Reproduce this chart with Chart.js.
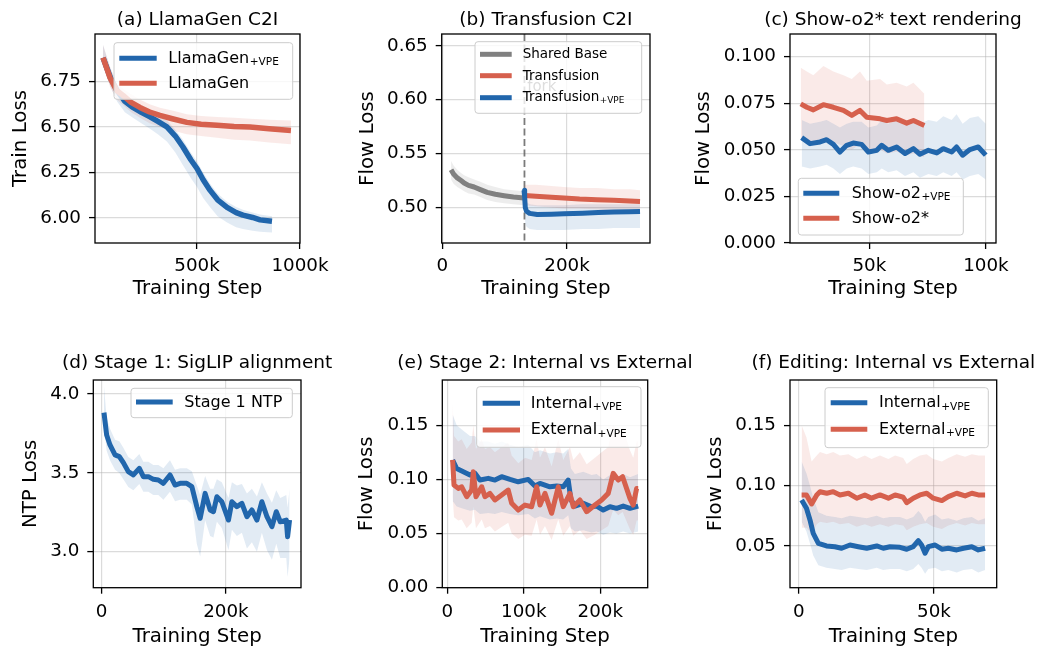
<!DOCTYPE html>
<html>
<head>
<meta charset="utf-8">
<script src="https://cdn.jsdelivr.net/npm/chart.js@4.4.1/dist/chart.umd.min.js"></script>
<style>
  html, body { margin: 0; padding: 0; background: #fff; }
  #wrap { position: relative; width: 1040px; height: 652px; }
  #wrap canvas { position: absolute; left: 0; top: 0; }
</style>
</head>
<body>
<div id="wrap">
  <canvas id="pa" width="1040" height="652"></canvas>
  <canvas id="pb" width="1040" height="652"></canvas>
  <canvas id="pc" width="1040" height="652"></canvas>
  <canvas id="pd" width="1040" height="652"></canvas>
  <canvas id="pe" width="1040" height="652"></canvas>
  <canvas id="pf" width="1040" height="652"></canvas>
</div>
<script>
// (a) LlamaGen C2I  (steps in thousands)
const aVpeSteps = [44, 80, 112, 150, 189, 230, 272, 310, 354, 395, 432, 470, 500, 530, 563, 600, 646, 690, 723, 770, 806, 864];
const aVpeLoss = [6.88, 6.77, 6.70, 6.64, 6.607, 6.58, 6.555, 6.53, 6.50, 6.45, 6.39, 6.32, 6.272, 6.21, 6.153, 6.10, 6.058, 6.03, 6.016, 6.003, 5.99, 5.982];
const aVpeHigh = [6.95, 6.82, 6.73, 6.67, 6.635, 6.61, 6.585, 6.56, 6.535, 6.485, 6.43, 6.36, 6.31, 6.25, 6.19, 6.135, 6.09, 6.06, 6.045, 6.03, 6.02, 6.01];
const aVpeLow = [6.84, 6.72, 6.64, 6.58, 6.55, 6.52, 6.49, 6.46, 6.42, 6.36, 6.29, 6.22, 6.17, 6.11, 6.06, 6.01, 5.975, 5.95, 5.94, 5.93, 5.925, 5.92];
const aBaseSteps = [44, 78, 110, 141, 180, 223, 270, 320, 380, 451, 520, 597, 680, 757, 850, 956];
const aBaseLoss = [6.88, 6.77, 6.70, 6.673, 6.635, 6.607, 6.582, 6.563, 6.545, 6.525, 6.515, 6.509, 6.503, 6.50, 6.49, 6.48];
const aBaseHigh = [6.95, 6.83, 6.74, 6.71, 6.68, 6.65, 6.625, 6.605, 6.59, 6.57, 6.56, 6.555, 6.55, 6.545, 6.54, 6.535];
const aBaseLow = [6.84, 6.72, 6.65, 6.62, 6.58, 6.55, 6.52, 6.50, 6.48, 6.46, 6.45, 6.44, 6.43, 6.425, 6.415, 6.405];
const aXTicks = [500, 1000];
const aYTicks = [6.00, 6.25, 6.50, 6.75];

// (b) Transfusion C2I
const bSharedSteps = [14, 18, 24, 30, 35, 42, 51, 60, 72, 85, 99, 114, 131];
const bSharedLoss = [0.535, 0.531, 0.5274, 0.525, 0.5227, 0.5205, 0.519, 0.5168, 0.514, 0.5122, 0.5109, 0.5097, 0.5087];
const bSharedHigh = [0.543, 0.539, 0.535, 0.532, 0.530, 0.528, 0.526, 0.524, 0.521, 0.519, 0.517, 0.516, 0.515];
const bSharedLow = [0.526, 0.522, 0.519, 0.517, 0.515, 0.513, 0.512, 0.510, 0.507, 0.505, 0.504, 0.503, 0.502];
const bTfSteps = [132, 150, 175, 195, 220, 248, 275, 300, 317];
const bTfLoss = [0.511, 0.5105, 0.5095, 0.5087, 0.5078, 0.5072, 0.5066, 0.5060, 0.5056];
const bTfHigh = [0.521, 0.521, 0.520, 0.519, 0.518, 0.518, 0.517, 0.517, 0.516];
const bTfLow = [0.502, 0.501, 0.500, 0.499, 0.499, 0.498, 0.497, 0.497, 0.496];
const bVpeSteps = [131, 132, 133, 135, 140, 152, 175, 195, 225, 250, 275, 300, 317];
const bVpeLoss = [0.516, 0.510, 0.500, 0.4965, 0.4945, 0.4935, 0.4938, 0.4941, 0.4947, 0.4953, 0.4957, 0.496, 0.4963];
const bVpeHigh = [0.520, 0.518, 0.508, 0.505, 0.503, 0.502, 0.502, 0.502, 0.503, 0.503, 0.503, 0.503, 0.503];
const bVpeLow = [0.508, 0.500, 0.485, 0.482, 0.480, 0.479, 0.479, 0.479, 0.480, 0.480, 0.481, 0.481, 0.481];
const bForkStep = 131.7;
const bXTicks = [0, 200];
const bYTicks = [0.50, 0.55, 0.60, 0.65];

// (c) Show-o2* text rendering
const cVpeSteps = [21, 24.6, 28.9, 31.7, 34.6, 37.4, 40.3, 43.1, 46.7, 49.6, 53.2, 55.3, 58.1, 61.7, 65.3, 68.9, 71.7, 75.3, 78.9, 81.7, 85.3, 87.4, 90, 93.1, 96.7, 99.9];
const cVpeLoss = [0.0565, 0.0533, 0.0542, 0.0554, 0.0529, 0.0488, 0.0524, 0.0536, 0.0529, 0.0488, 0.0497, 0.0524, 0.0497, 0.0515, 0.048, 0.0506, 0.0476, 0.0497, 0.0483, 0.0506, 0.0488, 0.0515, 0.0471, 0.0501, 0.0515, 0.0471];
const cVpeHigh = [0.066, 0.064, 0.065, 0.066, 0.064, 0.062, 0.064, 0.065, 0.065, 0.062, 0.063, 0.066, 0.064, 0.066, 0.063, 0.066, 0.064, 0.066, 0.065, 0.068, 0.066, 0.069, 0.064, 0.067, 0.068, 0.064];
const cVpeLow = [0.041, 0.040, 0.041, 0.042, 0.040, 0.037, 0.040, 0.041, 0.040, 0.037, 0.038, 0.040, 0.038, 0.039, 0.036, 0.038, 0.035, 0.037, 0.036, 0.038, 0.036, 0.038, 0.034, 0.036, 0.037, 0.034];
const cBaseSteps = [20.6, 23.2, 26, 30.3, 34.6, 38.9, 42.5, 46, 48.9, 54.6, 57.5, 61.7, 66, 68.9, 73.6];
const cBaseLoss = [0.0746, 0.0728, 0.0714, 0.0742, 0.0728, 0.0711, 0.0684, 0.0711, 0.0675, 0.0666, 0.0657, 0.0666, 0.0643, 0.0657, 0.063];
const cBaseHigh = [0.094, 0.092, 0.090, 0.095, 0.092, 0.090, 0.088, 0.092, 0.087, 0.088, 0.085, 0.086, 0.084, 0.086, 0.080];
const cBaseLow = [0.055, 0.054, 0.053, 0.056, 0.054, 0.052, 0.050, 0.053, 0.049, 0.050, 0.048, 0.049, 0.047, 0.048, 0.046];
const cXTicks = [50, 100];
const cYTicks = [0, 0.025, 0.05, 0.075, 0.1];

// (d) Stage 1: SigLIP alignment
const dSteps = [3.7, 8, 13.4, 21.5, 28.5, 34.9, 42.9, 51, 60.6, 67.1, 75.2, 83.2, 91.3, 99.4, 110, 118.2, 126.3, 137, 145.2, 153.2, 158.6, 166.6, 174.7, 180, 185.5, 193.5, 204.2, 209.7, 217.7, 225.8, 233.9, 241.9, 250, 258, 266.2, 274.2, 281.2, 287.6, 297.3, 299.4, 302.6];
const dLoss = [3.882, 3.74, 3.677, 3.614, 3.603, 3.565, 3.508, 3.487, 3.529, 3.476, 3.476, 3.459, 3.455, 3.434, 3.487, 3.423, 3.434, 3.434, 3.413, 3.286, 3.212, 3.37, 3.265, 3.254, 3.349, 3.317, 3.201, 3.317, 3.286, 3.307, 3.222, 3.265, 3.201, 3.317, 3.222, 3.159, 3.254, 3.19, 3.201, 3.095, 3.201];
const dHigh = [4.05, 3.85, 3.78, 3.71, 3.70, 3.66, 3.60, 3.58, 3.62, 3.57, 3.57, 3.55, 3.55, 3.53, 3.58, 3.52, 3.53, 3.53, 3.51, 3.42, 3.36, 3.48, 3.40, 3.40, 3.46, 3.44, 3.34, 3.44, 3.42, 3.43, 3.37, 3.40, 3.35, 3.44, 3.37, 3.31, 3.39, 3.34, 3.36, 3.28, 3.40];
const dLow = [3.80, 3.64, 3.58, 3.52, 3.50, 3.46, 3.41, 3.39, 3.43, 3.38, 3.38, 3.36, 3.36, 3.33, 3.38, 3.32, 3.33, 3.33, 3.30, 3.05, 2.97, 3.20, 3.10, 3.09, 3.19, 3.15, 3.01, 3.14, 3.10, 3.12, 3.02, 3.06, 3.00, 3.12, 3.01, 2.95, 3.05, 2.96, 2.96, 2.84, 2.96];
const dXTicks = [0, 200];
const dYTicks = [3.0, 3.5, 4.0];

// (e) Stage 2: Internal vs External
const eIntSteps = [7, 12.3, 21, 29.7, 36.2, 42.7, 53.6, 62.3, 71.1, 82, 92.8, 105.9, 114.6, 121.2, 134.2, 143, 151.6, 158.1, 161.7, 166.9, 177.8, 188.7, 195.3, 203.9, 212.7, 221.4, 230, 238.8, 249.6];
const eIntLoss = [0.1179, 0.110, 0.107, 0.104, 0.1056, 0.0994, 0.101, 0.0994, 0.1025, 0.100, 0.0978, 0.100, 0.0939, 0.0963, 0.0932, 0.0939, 0.0932, 0.0994, 0.081, 0.0754, 0.0779, 0.0748, 0.0754, 0.0717, 0.0748, 0.0733, 0.0754, 0.0733, 0.0754];
const eIntHigh = [0.16, 0.15, 0.145, 0.14, 0.14, 0.135, 0.135, 0.133, 0.135, 0.132, 0.13, 0.132, 0.125, 0.127, 0.124, 0.125, 0.124, 0.128, 0.11, 0.105, 0.107, 0.104, 0.105, 0.1, 0.104, 0.102, 0.105, 0.102, 0.105];
const eIntLow = [0.08, 0.075, 0.073, 0.071, 0.072, 0.068, 0.069, 0.068, 0.07, 0.068, 0.067, 0.068, 0.064, 0.066, 0.063, 0.064, 0.063, 0.067, 0.055, 0.052, 0.053, 0.051, 0.052, 0.049, 0.051, 0.05, 0.052, 0.05, 0.052];
const eExtSteps = [7, 8.8, 14.4, 18.8, 25.4, 31.9, 34, 37.5, 45, 49.3, 55.8, 62.3, 71.1, 79.7, 84.2, 92.8, 101.6, 110.3, 116.8, 121.2, 127.7, 136.4, 145.1, 151.6, 160.4, 164.7, 173.4, 182.2, 193, 201.8, 210.4, 216.9, 223.5, 229.2, 238.8, 243.1, 247.5, 249.6];
const eExtLoss = [0.118, 0.0948, 0.0917, 0.0932, 0.084, 0.0902, 0.107, 0.084, 0.0932, 0.084, 0.0871, 0.081, 0.0856, 0.0902, 0.0779, 0.0717, 0.0763, 0.0748, 0.0932, 0.0763, 0.0871, 0.0687, 0.0932, 0.0748, 0.0871, 0.0748, 0.081, 0.0702, 0.0763, 0.081, 0.0871, 0.1056, 0.0994, 0.1025, 0.0825, 0.0763, 0.0917, 0.0917];
const eExtHigh = [0.17, 0.14, 0.135, 0.137, 0.128, 0.134, 0.15, 0.128, 0.137, 0.128, 0.13, 0.125, 0.13, 0.134, 0.122, 0.115, 0.12, 0.118, 0.137, 0.12, 0.13, 0.112, 0.137, 0.118, 0.13, 0.118, 0.125, 0.114, 0.12, 0.125, 0.13, 0.15, 0.143, 0.147, 0.127, 0.12, 0.135, 0.135];
const eExtLow = [0.085, 0.065, 0.062, 0.063, 0.055, 0.06, 0.075, 0.055, 0.063, 0.055, 0.057, 0.052, 0.056, 0.06, 0.05, 0.045, 0.049, 0.048, 0.063, 0.049, 0.057, 0.044, 0.063, 0.048, 0.057, 0.048, 0.053, 0.045, 0.049, 0.053, 0.057, 0.072, 0.067, 0.07, 0.054, 0.049, 0.062, 0.062];
const eXTicks = [0, 100, 200];
const eYTicks = [0, 0.05, 0.10, 0.15];

// (f) Editing: Internal vs External
const fIntSteps = [1, 2.8, 4.1, 5.3, 7.2, 10.2, 13.3, 15.8, 18.9, 22, 25.1, 28.8, 31.2, 33.7, 37.4, 39.9, 42.3, 44.2, 45.4, 46.7, 47.9, 50.4, 52.9, 55.3, 58.4, 60.9, 64, 66.4, 68.9];
const fIntLoss = [0.0881, 0.0813, 0.0716, 0.0605, 0.0522, 0.05, 0.0494, 0.0481, 0.0508, 0.0494, 0.0481, 0.05, 0.0481, 0.0494, 0.0489, 0.0473, 0.0494, 0.0544, 0.0508, 0.044, 0.0494, 0.0508, 0.0473, 0.0481, 0.0467, 0.0481, 0.0494, 0.0467, 0.0481];
const fIntHigh = [0.12, 0.11, 0.1, 0.09, 0.078, 0.075, 0.074, 0.073, 0.075, 0.074, 0.073, 0.075, 0.073, 0.074, 0.074, 0.072, 0.074, 0.079, 0.076, 0.07, 0.074, 0.076, 0.072, 0.073, 0.071, 0.073, 0.074, 0.071, 0.073];
const fIntLow = [0.07, 0.062, 0.052, 0.042, 0.034, 0.032, 0.031, 0.03, 0.032, 0.031, 0.03, 0.032, 0.03, 0.031, 0.031, 0.029, 0.031, 0.035, 0.032, 0.027, 0.031, 0.032, 0.029, 0.03, 0.028, 0.03, 0.031, 0.028, 0.03];
const fExtSteps = [1, 2.8, 4.7, 6.6, 7.8, 10.3, 12.7, 15.2, 18.3, 21.4, 24.4, 26.9, 30, 33.1, 35.6, 38.6, 39.9, 42.3, 44.8, 47.3, 49.7, 52.9, 55.3, 58.4, 61.5, 64, 66.4, 68.9];
const fExtLoss = [0.0923, 0.0923, 0.0848, 0.0923, 0.095, 0.0937, 0.095, 0.0923, 0.0937, 0.0896, 0.0923, 0.0896, 0.0923, 0.0896, 0.0923, 0.0904, 0.0859, 0.0896, 0.0923, 0.0937, 0.0896, 0.0876, 0.0909, 0.0937, 0.0915, 0.0937, 0.0923, 0.0923];
const fExtHigh = [0.15, 0.14, 0.12, 0.125, 0.128, 0.126, 0.128, 0.125, 0.126, 0.122, 0.125, 0.122, 0.125, 0.122, 0.125, 0.123, 0.118, 0.122, 0.125, 0.126, 0.122, 0.12, 0.123, 0.126, 0.124, 0.126, 0.125, 0.125];
const fExtLow = [0.065, 0.065, 0.06, 0.068, 0.07, 0.069, 0.07, 0.068, 0.069, 0.066, 0.068, 0.066, 0.068, 0.066, 0.068, 0.067, 0.063, 0.066, 0.068, 0.069, 0.066, 0.064, 0.067, 0.069, 0.067, 0.069, 0.068, 0.068];
const fXTicks = [0, 50];
const fYTicks = [0.05, 0.10, 0.15];

const BLUE = "#2166ac", RED = "#d6604d", GRAY = "#808080";
const BLUE_BAND = "rgba(33,102,172,0.13)", RED_BAND = "rgba(214,96,77,0.13)", GRAY_BAND = "rgba(128,128,128,0.14)";
const FONT = "DejaVu Sans";
const TICK_SIZE = 18.3, TITLE_SIZE = 18.5, LABEL_SIZE = 19.8;

Chart.defaults.font.family = FONT;
Chart.defaults.color = "#000";

// one smoothed line + its raw-noise band (two datasets filled between)
function series(idx, label, sub, color, band, width, steps, loss, high, low) {
    let pts = ys => steps.map((s, i) => ({ x: s, y: ys[i] }));
    return [
        { label: label, sub: sub, data: pts(loss), borderColor: color, borderWidth: width,
          pointRadius: 0, tension: 0, fill: false, order: 5 - idx, clip: 0,
          borderJoinStyle: "round", borderCapStyle: "butt" },
        { isBand: true, data: pts(high), borderWidth: 0, pointRadius: 0, fill: false,
          backgroundColor: band, order: 20, clip: 0 },
        { isBand: true, data: pts(low), borderWidth: 0, pointRadius: 0, fill: "-1",
          backgroundColor: band, order: 20, clip: 0 }
    ];
}

const decoPlugin = {
    id: "deco",
    beforeDatasetsDraw(chart) {
        let p = chart.options.plugins.deco;
        let ctx = chart.ctx, ca = chart.chartArea;
        if (p.vline !== undefined) {
            let x = chart.scales.x.getPixelForValue(p.vline);
            ctx.save();
            ctx.strokeStyle = "rgba(90,90,90,0.8)";
            ctx.lineWidth = 1.8;
            ctx.setLineDash([7, 3.5]);
            ctx.beginPath();
            ctx.moveTo(x, ca.top);
            ctx.lineTo(x, ca.bottom);
            ctx.stroke();
            ctx.restore();
        }
        if (p.note) {
            ctx.save();
            ctx.font = "15px '" + FONT + "'";
            ctx.fillStyle = "#555";
            ctx.textBaseline = "alphabetic";
            ctx.fillText(p.note.text, chart.scales.x.getPixelForValue(p.note.x), chart.scales.y.getPixelForValue(p.note.y));
            ctx.restore();
        }
    },
    afterDatasetsDraw(chart) {
        let ctx = chart.ctx, ca = chart.chartArea;
        ctx.save();
        ctx.strokeStyle = "#000";
        ctx.lineWidth = 1.3;
        ctx.strokeRect(ca.left, ca.top, ca.right - ca.left, ca.bottom - ca.top);
        ctx.restore();
    },
    afterDraw(chart) {
        let p = chart.options.plugins.deco;
        let ctx = chart.ctx, ca = chart.chartArea;
        ctx.save();
        // panel title
        ctx.font = TITLE_SIZE + "px '" + FONT + "'";
        ctx.fillStyle = "#000";
        ctx.textAlign = "center";
        ctx.textBaseline = "alphabetic";
        ctx.fillText(p.title, (ca.left + ca.right) / 2, p.titleBase);

        // legend with subscripts
        let lg = p.legend;
        ctx.beginPath();
        ctx.roundRect(lg.x, lg.y, lg.w, lg.h, 3);
        ctx.fillStyle = "rgba(255,255,255,0.8)";
        ctx.fill();
        ctx.strokeStyle = "#cccccc";
        ctx.lineWidth = 1;
        ctx.stroke();
        let items = chart.data.datasets.filter(d => !d.isBand);
        items.forEach((d, i) => {
            let y = lg.rows[i];
            ctx.strokeStyle = d.borderColor;
            ctx.lineWidth = Math.min(d.borderWidth, 5);
            ctx.beginPath();
            ctx.moveTo(lg.l0, y);
            ctx.lineTo(lg.l1, y);
            ctx.stroke();
            ctx.textAlign = "left";
            ctx.fillStyle = "#000";
            ctx.font = lg.fs + "px '" + FONT + "'";
            let base = y + (d.sub ? 0.275 : 0.31) * lg.fs;
            ctx.fillText(d.label, lg.tx, base);
            if (d.sub) {
                let w = ctx.measureText(d.label).width;
                ctx.font = (lg.fs * 0.66) + "px '" + FONT + "'";
                ctx.fillText(d.sub, lg.tx + w + 0.5, base + 0.15 * lg.fs);
            }
        });
        ctx.restore();
    }
};

function makePanel(p) {
    let half = LABEL_SIZE * 0.6;
    let padLeft = p.yTitleX - half;
    let xAxisH = p.xTitleOff + half;
    let xFmt = v => v === 0 ? "0" : v + "k";
    new Chart(document.getElementById(p.id), {
        type: "line",
        data: { datasets: p.datasets },
        plugins: [decoPlugin],
        options: {
            responsive: false,
            animation: false,
            events: [],
            layout: { padding: { left: padLeft, top: p.top, right: 1040 - p.right, bottom: 652 - p.bottom - xAxisH } },
            plugins: {
                legend: { display: false },
                tooltip: { enabled: false },
                deco: { title: p.title, titleBase: p.titleBase, legend: p.legend, vline: p.vline, note: p.note }
            },
            scales: {
                x: {
                    type: "linear", min: p.xMin, max: p.xMax,
                    afterBuildTicks: s => { s.ticks = p.xTicks.map(v => ({ value: v })); },
                    afterFit: s => { s.height = xAxisH; s.paddingLeft = 0; s.paddingRight = 0; },
                    ticks: { callback: xFmt, autoSkip: false, maxRotation: 0, padding: p.xTickPad, font: { size: TICK_SIZE }, color: "#000" },
                    grid: { color: "rgba(176,176,176,0.45)", lineWidth: 1.2, tickColor: "#000", tickLength: 6, tickWidth: 1.3 },
                    border: { display: false },
                    title: { display: true, text: "Training Step", font: { size: LABEL_SIZE }, color: "#000", padding: 0 }
                },
                y: {
                    type: "linear", min: p.yMin, max: p.yMax,
                    afterBuildTicks: s => { s.ticks = p.yTicks.map(v => ({ value: v })); },
                    afterFit: s => { s.width = p.left - padLeft; s.paddingTop = 0; s.paddingBottom = 0; },
                    ticks: { callback: v => v.toFixed(p.yDec), autoSkip: false, padding: 8, font: { size: TICK_SIZE }, color: "#000" },
                    grid: { color: "rgba(176,176,176,0.45)", lineWidth: 1.2, tickColor: "#000", tickLength: 6, tickWidth: 1.3 },
                    border: { display: false },
                    title: { display: true, text: p.yLabel, font: { size: LABEL_SIZE }, color: "#000", padding: 0 }
                }
            }
        }
    });
}

document.addEventListener("DOMContentLoaded", function () {
    makePanel({
        id: "pa", title: "(a) LlamaGen C2I", yLabel: "Train Loss",
        left: 95, right: 300, top: 34, bottom: 243, yTitleX: 20.7, titleBase: 24.5, xTitleOff: 46.3, xTickPad: 6.4,
        xMin: 5, xMax: 1000, yMin: 5.863, yMax: 7.01, xTicks: aXTicks, yTicks: aYTicks, yDec: 2,
        legend: { x: 114, y: 42.7, w: 178.7, h: 56.6, l0: 119.3, l1: 156.7, tx: 168.3, rows: [58.3, 83.3], fs: 16 },
        datasets: [
            ...series(0, "LlamaGen", "+VPE", BLUE, BLUE_BAND, 5.5, aVpeSteps, aVpeLoss, aVpeHigh, aVpeLow),
            ...series(1, "LlamaGen", "", RED, RED_BAND, 5.5, aBaseSteps, aBaseLoss, aBaseHigh, aBaseLow)
        ]
    });

    makePanel({
        id: "pb", title: "(b) Transfusion C2I", yLabel: "Flow Loss",
        left: 441.7, right: 650, top: 34, bottom: 243, yTitleX: 367.7, titleBase: 24.5, xTitleOff: 46.3, xTickPad: 6.4,
        xMin: -1, xMax: 333, yMin: 0.467, yMax: 0.661, xTicks: bXTicks, yTicks: bYTicks, yDec: 2,
        vline: bForkStep, note: { text: "fork", x: 136, y: 0.608 },
        legend: { x: 475, y: 41.7, w: 166.7, h: 71.6, l0: 480, l1: 511.7, tx: 522.7, rows: [54.3, 75.7, 97.7], fs: 13.5 },
        datasets: [
            ...series(0, "Shared Base", "", GRAY, GRAY_BAND, 5, bSharedSteps, bSharedLoss, bSharedHigh, bSharedLow),
            ...series(1, "Transfusion", "", RED, RED_BAND, 5, bTfSteps, bTfLoss, bTfHigh, bTfLow),
            ...series(2, "Transfusion", "+VPE", BLUE, BLUE_BAND, 5, bVpeSteps, bVpeLoss, bVpeHigh, bVpeLow)
        ]
    });

    makePanel({
        id: "pc", title: "(c) Show-o2* text rendering", yLabel: "Flow Loss",
        left: 790, right: 996, top: 34, bottom: 243, yTitleX: 704, titleBase: 24.5, xTitleOff: 46.3, xTickPad: 6.4,
        xMin: 16, xMax: 104.3, yMin: 0, yMax: 0.1121, xTicks: cXTicks, yTicks: cYTicks, yDec: 3,
        legend: { x: 798.3, y: 178.3, w: 165, h: 56.7, l0: 803.3, l1: 839.3, tx: 851.7, rows: [193.3, 218.3], fs: 16 },
        datasets: [
            ...series(0, "Show-o2", "+VPE", BLUE, BLUE_BAND, 5, cVpeSteps, cVpeLoss, cVpeHigh, cVpeLow),
            ...series(1, "Show-o2*", "", RED, RED_BAND, 5, cBaseSteps, cBaseLoss, cBaseHigh, cBaseLow)
        ]
    });

    makePanel({
        id: "pd", title: "(d) Stage 1: SigLIP alignment", yLabel: "NTP Loss",
        left: 93.3, right: 301, top: 380, bottom: 587.7, yTitleX: 30.7, titleBase: 367.5, xTitleOff: 49, xTickPad: 7.3,
        xMin: -13.5, xMax: 321, yMin: 2.772, yMax: 4.089, xTicks: dXTicks, yTicks: dYTicks, yDec: 1,
        legend: { x: 131, y: 388.3, w: 161.3, h: 29.4, l0: 136, l1: 172.7, tx: 184.3, rows: [402], fs: 16 },
        datasets: [
            ...series(0, "Stage 1 NTP", "", BLUE, BLUE_BAND, 5, dSteps, dLoss, dHigh, dLow)
        ]
    });

    makePanel({
        id: "pe", title: "(e) Stage 2: Internal vs External", yLabel: "Flow Loss",
        left: 442.3, right: 647.7, top: 380, bottom: 587.7, yTitleX: 366.7, titleBase: 367.5, xTitleOff: 49, xTickPad: 7.3,
        xMin: -6.5, xMax: 262, yMin: 0, yMax: 0.1918, xTicks: eXTicks, yTicks: eYTicks, yDec: 2,
        legend: { x: 476.7, y: 386.7, w: 164.3, h: 60.6, l0: 482.7, l1: 520, tx: 530.7, rows: [403.3, 430], fs: 16 },
        datasets: [
            ...series(0, "Internal", "+VPE", BLUE, BLUE_BAND, 5, eIntSteps, eIntLoss, eIntHigh, eIntLow),
            ...series(1, "External", "+VPE", RED, RED_BAND, 5, eExtSteps, eExtLoss, eExtHigh, eExtLow)
        ]
    });

    makePanel({
        id: "pf", title: "(f) Editing: Internal vs External", yLabel: "Flow Loss",
        left: 790, right: 996.7, top: 380, bottom: 587.7, yTitleX: 716, titleBase: 367.5, xTitleOff: 49, xTickPad: 7.3,
        xMin: -3.3, xMax: 73.2, yMin: 0.0154, yMax: 0.1876, xTicks: fXTicks, yTicks: fYTicks, yDec: 2,
        legend: { x: 825, y: 387.7, w: 163.3, h: 60, l0: 830.7, l1: 867.3, tx: 879, rows: [402.7, 429.3], fs: 16 },
        datasets: [
            ...series(0, "Internal", "+VPE", BLUE, BLUE_BAND, 5, fIntSteps, fIntLoss, fIntHigh, fIntLow),
            ...series(1, "External", "+VPE", RED, RED_BAND, 5, fExtSteps, fExtLoss, fExtHigh, fExtLow)
        ]
    });
});
</script>
</body>
</html>
